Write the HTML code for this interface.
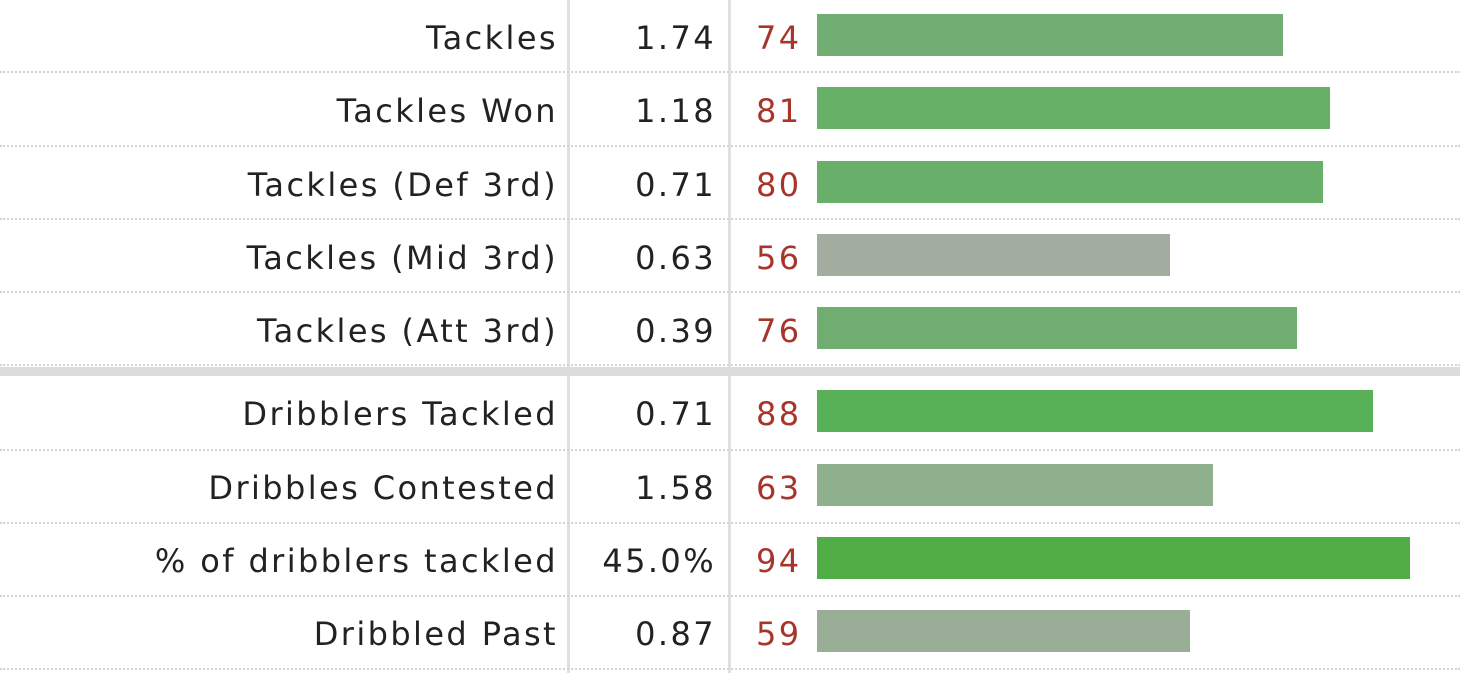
<!DOCTYPE html><html><head><style>
body{margin:0;width:1460px;height:673px;background:#fff;position:relative;overflow:hidden;font-family:"DejaVu Sans",Verdana,sans-serif;font-size:32px;letter-spacing:2.4px;color:#222}
.r{position:absolute;left:0;width:1460px;height:73px}
.l{position:absolute;right:902px;top:50%;transform:translateY(-50%);white-space:nowrap}
.v{position:absolute;right:744px;top:50%;transform:translateY(-50%)}
.p{position:absolute;left:756px;top:50%;transform:translateY(-50%);color:#a8352b}
.b{position:absolute;left:817px;top:50%;height:42px;margin-top:-24px}
.d{position:absolute;left:0;width:1460px;border-top:2px dotted #d4d4d4}
.vl{position:absolute;top:0;height:673px;width:3px;background:#e0e0e0}
</style></head><body>
<div class="vl" style="left:567px"></div><div class="vl" style="left:728px"></div>
<div class="d" style="top:71px"></div><div class="d" style="top:145px"></div><div class="d" style="top:218px"></div><div class="d" style="top:291px"></div><div class="d" style="top:364px"></div>
<div style="position:absolute;left:0;top:367px;width:1460px;height:9px;background:#dcdcdc"></div>
<div class="d" style="top:449px"></div><div class="d" style="top:522px"></div><div class="d" style="top:595px"></div><div class="d" style="top:668px"></div>
<div class="r" style="top:1px"><span class="l">Tackles</span><span class="v">1.74</span><span class="p">74</span><div class="b" style="width:466px;background:#72ad74"></div></div>
<div class="r" style="top:74px"><span class="l">Tackles Won</span><span class="v">1.18</span><span class="p">81</span><div class="b" style="width:513px;background:#66b067"></div></div>
<div class="r" style="top:148px"><span class="l">Tackles (Def 3rd)</span><span class="v">0.71</span><span class="p">80</span><div class="b" style="width:506px;background:#68af69"></div></div>
<div class="r" style="top:221px"><span class="l">Tackles (Mid 3rd)</span><span class="v">0.63</span><span class="p">56</span><div class="b" style="width:353px;background:#a2ac9f"></div></div>
<div class="r" style="top:294px"><span class="l">Tackles (Att 3rd)</span><span class="v">0.39</span><span class="p">76</span><div class="b" style="width:480px;background:#6fae70"></div></div>
<div class="r" style="top:377px"><span class="l">Dribblers Tackled</span><span class="v">0.71</span><span class="p">88</span><div class="b" style="width:556px;background:#58b057"></div></div>
<div class="r" style="top:451px"><span class="l">Dribbles Contested</span><span class="v">1.58</span><span class="p">63</span><div class="b" style="width:396px;background:#8eb08d"></div></div>
<div class="r" style="top:524px"><span class="l">% of dribblers tackled</span><span class="v">45.0%</span><span class="p">94</span><div class="b" style="width:593px;background:#51ad45"></div></div>
<div class="r" style="top:597px"><span class="l">Dribbled Past</span><span class="v">0.87</span><span class="p">59</span><div class="b" style="width:373px;background:#99ad97"></div></div>
</body></html>
